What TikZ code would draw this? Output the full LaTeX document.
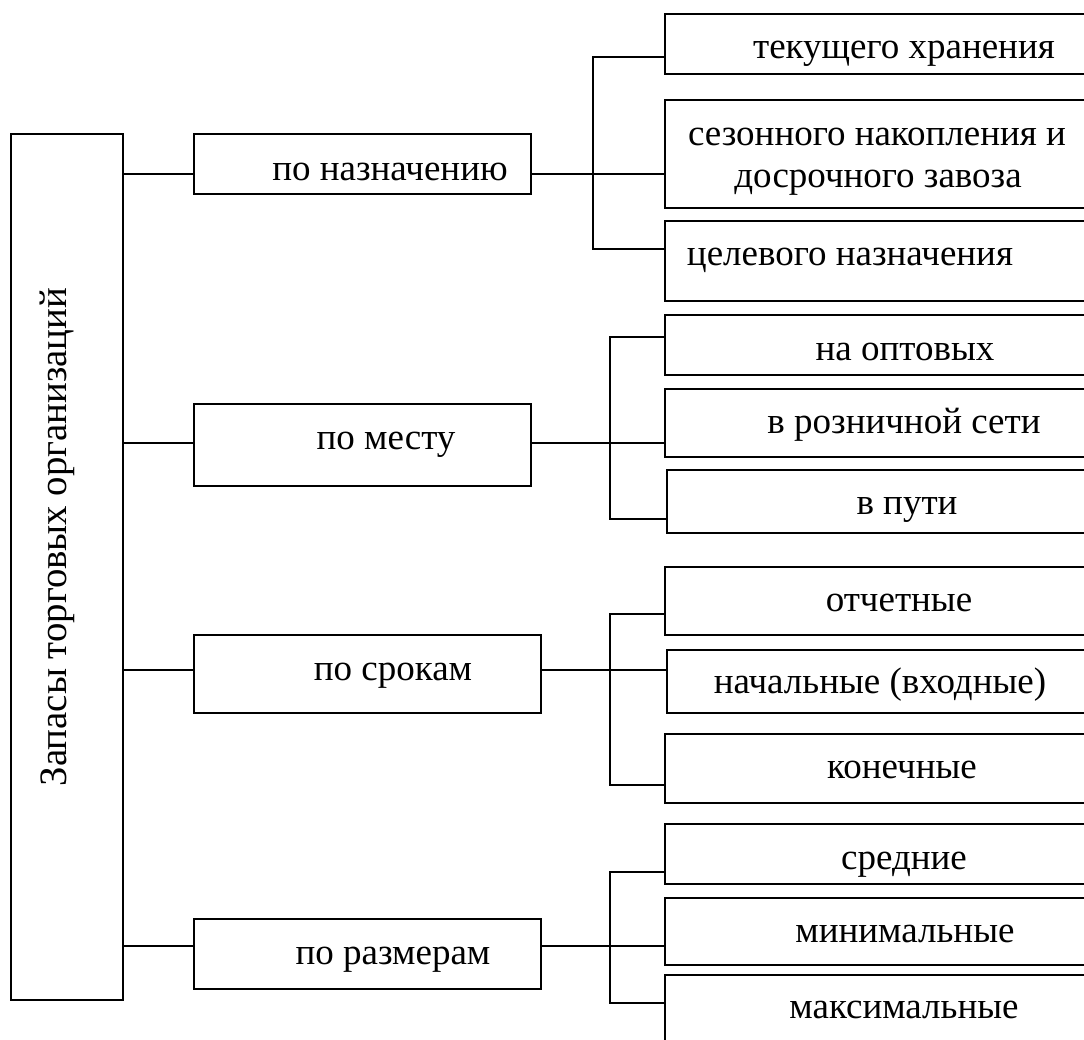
\documentclass[tikz,border=0pt]{standalone}
\usepackage{fontspec}
\setmainfont{Liberation Serif}
\begin{document}
\begin{tikzpicture}[x=1pt,y=-1pt,
  box/.style={draw, line width=1.8pt, rectangle, inner sep=0pt, anchor=north west},
  lbl/.style={font=\fontsize{37}{42}\selectfont, anchor=base, inner sep=0pt},
  conn/.style={line width=1.8pt}]
\useasboundingbox (0,0) rectangle (1084,1039);
\fill[white] (0,0) rectangle (1084,1039);
\clip (0,0) rectangle (1084,1039);
% main box
\node[box, minimum width=112pt, minimum height=866pt] (main) at (10,133) {};
% level 1
\node[box, minimum width=337pt, minimum height=60pt] (la) at (193,133) {};
\node[box, minimum width=337pt, minimum height=82pt] (lb) at (193,403) {};
\node[box, minimum width=347pt, minimum height=78pt] (lc) at (193,634) {};
\node[box, minimum width=347pt, minimum height=70pt] (ld) at (193,918) {};
% level 2
\node[box, minimum width=480pt, minimum height=60pt] (r1) at (664,13) {};
\node[box, minimum width=480pt, minimum height=108pt] (r2) at (664,99) {};
\node[box, minimum width=480pt, minimum height=80pt] (r3) at (664,220) {};
\node[box, minimum width=480pt, minimum height=60pt] (r4) at (664,314) {};
\node[box, minimum width=480pt, minimum height=68pt] (r5) at (664,388) {};
\node[box, minimum width=478pt, minimum height=63pt] (r6) at (666,469) {};
\node[box, minimum width=480pt, minimum height=68pt] (r7) at (664,566) {};
\node[box, minimum width=478pt, minimum height=63pt] (r8) at (666,649) {};
\node[box, minimum width=480pt, minimum height=69pt] (r9) at (664,733) {};
\node[box, minimum width=480pt, minimum height=60pt] (r10) at (664,823) {};
\node[box, minimum width=480pt, minimum height=67pt] (r11) at (664,897) {};
\node[box, minimum width=480pt, minimum height=90pt] (r12) at (664,974) {};
% texts
\node[lbl, rotate=90, font=\fontsize{38.8}{44}\selectfont] (t0) at (66,537) {Запасы торговых организаций};
\node[lbl] (ta) at (390,180) {по назначению};
\node[lbl] (tb) at (386,449) {по месту};
\node[lbl] (tc) at (393,680) {по срокам};
\node[lbl] (td) at (393,964) {по размерам};
\node[lbl] (t1) at (904,58) {текущего хранения};
\node[lbl] (t2a) at (877,145) {сезонного накопления и};
\node[lbl] (t2b) at (878,187) {досрочного завоза};
\node[lbl] (t3) at (850,265) {целевого назначения};
\node[lbl] (t4) at (905,360) {на оптовых};
\node[lbl] (t5) at (904,433) {в розничной сети};
\node[lbl] (t6) at (907,514) {в пути};
\node[lbl] (t7) at (899,611) {отчетные};
\node[lbl] (t8) at (880,693) {начальные (входные)};
\node[lbl] (t9) at (902,778) {конечные};
\node[lbl] (t10) at (904,869) {средние};
\node[lbl] (t11) at (905,942) {минимальные};
\node[lbl] (t12) at (904,1018) {максимальные};
% connector levels
\coordinate (ya) at (0,174);
\coordinate (yb) at (0,443);
\coordinate (yc) at (0,670);
\coordinate (yd) at (0,946);
\draw[conn] (main.east |- ya) -- (la.west |- ya);
\draw[conn] (main.east |- yb) -- (lb.west |- yb);
\draw[conn] (main.east |- yc) -- (lc.west |- yc);
\draw[conn] (main.east |- yd) -- (ld.west |- yd);
% group 1
\coordinate (b1t) at (593,57);
\coordinate (b1b) at (593,249);
\draw[conn] (la.east |- ya) -- (b1t |- ya) -- (r2.west |- ya);
\draw[conn] (r1.west |- b1t) -- (b1t) -- (b1b) -- (r3.west |- b1b);
% group 2
\coordinate (b2t) at (610,337);
\coordinate (b2b) at (610,519);
\draw[conn] (lb.east |- yb) -- (b2t |- yb) -- (r5.west |- yb);
\draw[conn] (r4.west |- b2t) -- (b2t) -- (b2b) -- (r6.west |- b2b);
% group 3
\coordinate (b3t) at (610,614);
\coordinate (b3b) at (610,785);
\draw[conn] (lc.east |- yc) -- (b3t |- yc) -- (r8.west |- yc);
\draw[conn] (r7.west |- b3t) -- (b3t) -- (b3b) -- (r9.west |- b3b);
% group 4
\coordinate (b4t) at (610,872);
\coordinate (b4b) at (610,1003);
\draw[conn] (ld.east |- yd) -- (b4t |- yd) -- (r11.west |- yd);
\draw[conn] (r10.west |- b4t) -- (b4t) -- (b4b) -- (r12.west |- b4b);
\end{tikzpicture}
\end{document}
